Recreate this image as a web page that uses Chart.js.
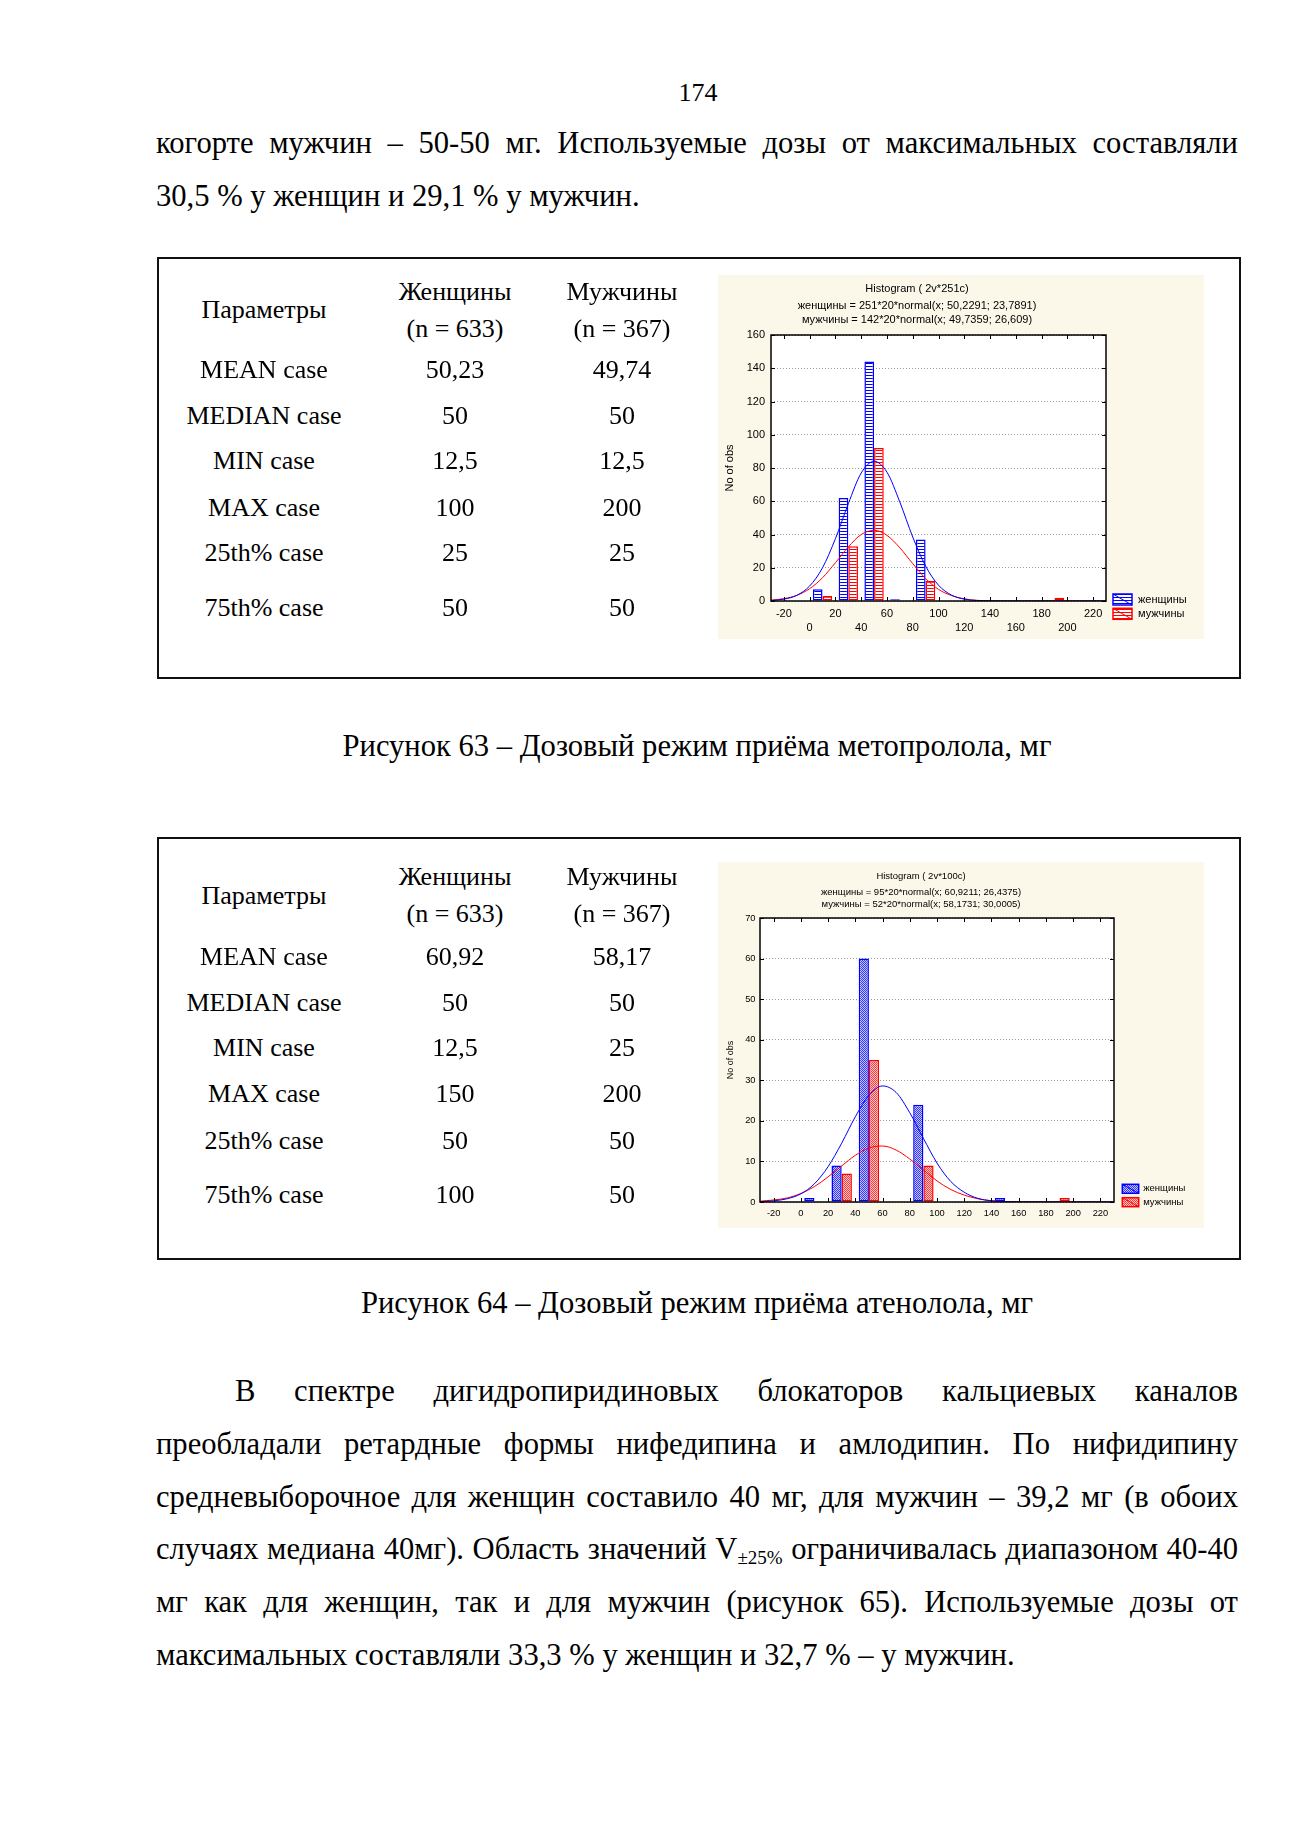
<!DOCTYPE html>
<html lang="ru">
<head>
<meta charset="utf-8">
<script src="https://cdn.jsdelivr.net/npm/chart.js@4.4.1/dist/chart.umd.min.js"></script>
<style>
  body { margin: 0; width: 1300px; height: 1839px; position: relative; overflow: hidden; background: #fff;
         font-family: "Liberation Serif", "Times New Roman", serif; color: #000; }
  .line { position: absolute; left: 156px; width: 1082px; height: 52.8px; line-height: 52.8px; font-size: 30.6px;
          text-align: justify; text-align-last: justify; }
  .line.last { text-align-last: left; }
  .center { position: absolute; text-align: center; white-space: nowrap; }
  .box { position: absolute; left: 157px; width: 1084px; border: 2px solid #111; box-sizing: border-box; }
  .panel { position: absolute; left: 718px; width: 486px; background: #fcf8e9; }
  .panel canvas { position: absolute; left: 0; top: 0; }
  sub { font-size: 19px; line-height: 0; vertical-align: -5px; }
</style>
</head>
<body>

<div class="center" style="left:598px;width:200px;top:73px;font-size:26px;line-height:40px;">174</div>

<div class="line" style="top:117px">когорте мужчин – 50-50 мг. Используемые дозы от максимальных составляли</div>
<div class="line last" style="top:170px">30,5 % у женщин и 29,1 % у мужчин.</div>

<div class="box" style="top:257px;height:422px"></div>
<div class="panel" style="top:275px;height:364px"><canvas id="meto" width="486" height="364"></canvas></div>
<div class="center" style="left:297px;width:800px;top:720px;font-size:30.6px;line-height:52.8px;">Рисунок 63 – Дозовый режим приёма метопролола, мг</div>

<div class="box" style="top:837px;height:423px"></div>
<div class="panel" style="top:862px;height:366px"><canvas id="aten" width="486" height="366"></canvas></div>
<div class="center" style="left:297px;width:800px;top:1277px;font-size:30.6px;line-height:52.8px;">Рисунок 64 – Дозовый режим приёма атенолола, мг</div>

<div class="line" style="top:1365px;padding-left:79px;width:1003px">В спектре дигидропиридиновых блокаторов кальциевых каналов</div>
<div class="line" style="top:1417.8px">преобладали ретардные формы нифедипина и амлодипин. По нифидипину</div>
<div class="line" style="top:1470.6px">средневыборочное для женщин составило 40 мг, для мужчин – 39,2 мг (в обоих</div>
<div class="line" style="top:1523.4px">случаях медиана 40мг). Область значений V<sub>±25%</sub> ограничивалась диапазоном 40-40</div>
<div class="line" style="top:1576.2px">мг как для женщин, так и для мужчин (рисунок 65). Используемые дозы от</div>
<div class="line last" style="top:1629px">максимальных составляли 33,3 % у женщин и 32,7 % – у мужчин.</div>

<script>
// table data
const paramNames = ['MEAN case', 'MEDIAN case', 'MIN case', 'MAX case', '25th% case', '75th% case'];
const metoWomenStats = ['50,23', '50', '12,5', '100', '25', '50'];
const metoMenStats = ['49,74', '50', '12,5', '200', '25', '50'];
const atenWomenStats = ['60,92', '50', '12,5', '150', '50', '100'];
const atenMenStats = ['58,17', '50', '25', '200', '50', '50'];

// histogram data (bin centres, counts)
const xTicks = [-20, 0, 20, 40, 60, 80, 100, 120, 140, 160, 180, 200, 220];
const metoBins = [10, 30, 50, 70, 90, 190];
const metoWomen = [7, 62, 144, 1, 37, 0];
const metoMen = [3, 33, 92, 0, 12, 2];
const atenBins = [10, 30, 50, 90, 150, 190];
const atenWomen = [1, 9, 60, 24, 1, 0];
const atenMen = [0, 7, 35, 9, 0, 1];

// fitted normal curves
const curveX = [-30, -20, -10, 0, 10, 20, 30, 40, 50, 60, 70, 80, 90, 100, 110, 120, 130, 140, 150, 160, 180, 200, 230];
const metoWomenFit = [0.3, 1.1, 3.4, 9, 20, 37.5, 58.5, 77, 84, 77.5, 59.5, 38.5, 21, 9.5, 3.6, 1.1, 0.3, 0.1, 0, 0, 0, 0, 0];
const metoMenFit = [0.5, 1.4, 3.4, 7.4, 14, 23, 32.5, 40, 42.5, 39.5, 32, 22.5, 13.5, 7, 3.3, 1.3, 0.4, 0.1, 0, 0, 0, 0, 0];
const atenWomenFit = [0.1, 0.3, 0.8, 2, 4.5, 8.7, 14.5, 21, 26.3, 28.6, 27, 22, 15.7, 9.6, 5.1, 2.4, 0.9, 0.3, 0.1, 0, 0, 0, 0];
const atenMenFit = [0.2, 0.5, 1, 2.1, 3.8, 6.2, 8.9, 11.5, 13.3, 13.8, 12.8, 10.6, 7.9, 5.2, 3.1, 1.7, 0.8, 0.3, 0.1, 0.05, 0, 0, 0];

const metoTitle = ['Histogram ( 2v*251c)', 'женщины = 251*20*normal(x; 50,2291; 23,7891)', 'мужчины = 142*20*normal(x; 49,7359; 26,609)'];
const atenTitle = ['Histogram ( 2v*100c)', 'женщины = 95*20*normal(x; 60,9211; 26,4375)', 'мужчины = 52*20*normal(x; 58,1731; 30,0005)'];

function addText(txt, cx, cy, size) {
  const d = document.createElement('div');
  d.className = 'center';
  d.style.cssText = `left:${cx - 150}px;width:300px;top:${cy - 20}px;font-size:${size}px;line-height:40px;`;
  d.textContent = txt;
  document.body.appendChild(d);
}

function buildTable(top, women, men, rowY) {
  addText('Женщины', 455, top[0], 26);
  addText('(n = 633)', 455, top[1], 26);
  addText('Мужчины', 622, top[0], 26);
  addText('(n = 367)', 622, top[1], 26);
  addText('Параметры', 264, top[2], 26);
  paramNames.forEach((p, i) => {
    addText(p, 264, rowY[i], 26);
    addText(women[i], 455, rowY[i], 26);
    addText(men[i], 622, rowY[i], 26);
  });
}
buildTable([292, 329, 310], metoWomenStats, metoMenStats, [370, 416, 461, 508, 553, 608]);
buildTable([877, 914, 896], atenWomenStats, atenMenStats, [957, 1003, 1048, 1094, 1141, 1195]);

Chart.defaults.font.family = '"Liberation Sans", Arial, sans-serif';
Chart.defaults.color = '#000';
Chart.defaults.animation = false;

function stripes(color) {
  const c = document.createElement('canvas');
  c.width = 4; c.height = 3;
  const g = c.getContext('2d');
  g.fillStyle = '#fff'; g.fillRect(0, 0, 4, 3);
  g.fillStyle = color; g.fillRect(0, 1, 4, 1);
  return g.createPattern(c, 'repeat');
}

function dots(dark, light) {
  const c = document.createElement('canvas');
  c.width = 2; c.height = 2;
  const g = c.getContext('2d');
  g.fillStyle = light; g.fillRect(0, 0, 2, 2);
  g.fillStyle = dark; g.fillRect(0, 0, 1, 1); g.fillRect(1, 1, 1, 1);
  return g.createPattern(c, 'repeat');
}

// frame, inner ticks, title lines and legend in the Statistica style
function statPlot(cfg) {
  return {
    id: 'statPlot',
    beforeDraw(chart) {
      const { ctx, chartArea: a } = chart;
      ctx.save();
      ctx.fillStyle = '#fff';
      ctx.fillRect(a.left, a.top, a.right - a.left, a.bottom - a.top);
      ctx.restore();
    },
    afterDraw(chart) {
      const { ctx, chartArea: a, scales } = chart;
      ctx.save();
      ctx.strokeStyle = '#000';
      ctx.lineWidth = 1.5;
      ctx.strokeRect(a.left, a.top, a.right - a.left, a.bottom - a.top);
      ctx.lineWidth = 1;
      ctx.beginPath();
      scales.x.ticks.forEach(t => {
        const px = Math.round(scales.x.getPixelForValue(t.value)) + 0.5;
        ctx.moveTo(px, a.top); ctx.lineTo(px, a.top + 4);
        ctx.moveTo(px, a.bottom); ctx.lineTo(px, a.bottom - 4);
      });
      scales.y.ticks.forEach(t => {
        const py = Math.round(scales.y.getPixelForValue(t.value)) + 0.5;
        ctx.moveTo(a.left, py); ctx.lineTo(a.left + 4, py);
        ctx.moveTo(a.right, py); ctx.lineTo(a.right - 4, py);
      });
      ctx.stroke();

      ctx.fillStyle = '#000';
      ctx.font = cfg.fontSize + 'px "Liberation Sans"';
      ctx.textAlign = 'center';
      ctx.textBaseline = 'middle';
      const cx = (scales.y.left + a.right) / 2 + cfg.titleDx;
      cfg.title.forEach((s, i) => ctx.fillText(s, cx, cfg.titleY[i]));

      ctx.textAlign = 'left';
      chart.data.datasets.filter(d => d.type !== 'line').forEach((d, i) => {
        const x = a.right + cfg.legendDx, y = a.bottom + cfg.legendDy[i];
        const w = cfg.swatch[0], h = cfg.swatch[1];
        ctx.fillStyle = d.backgroundColor;
        ctx.fillRect(x, y, w, h);
        ctx.strokeStyle = d.borderColor;
        ctx.lineWidth = 1.5;
        ctx.strokeRect(x, y, w, h);
        ctx.lineWidth = 1;
        ctx.beginPath(); ctx.moveTo(x, y); ctx.lineTo(x + w, y + h); ctx.stroke();
        ctx.fillStyle = '#000';
        ctx.fillText(d.label, x + w + cfg.legendGap, y + h / 2);
      });
      ctx.restore();
    }
  };
}

function histogram(id, c) {
  const toBars = (counts, bins) => bins.map((x, i) => ({ x: x, y: counts[i] || null }));
  const toCurve = ys => curveX.map((x, i) => ({ x: x, y: ys[i] }));
  new Chart(document.getElementById(id), {
    type: 'bar',
    data: {
      datasets: [
        { type: 'line', data: toCurve(c.womenFit), borderColor: '#0000ff', borderWidth: 1, pointRadius: 0,
          cubicInterpolationMode: 'monotone', order: 0 },
        { type: 'line', data: toCurve(c.menFit), borderColor: '#ff0000', borderWidth: 1, pointRadius: 0,
          cubicInterpolationMode: 'monotone', order: 0 },
        { label: 'женщины', data: toBars(c.women, c.bins), backgroundColor: c.womenFill, borderColor: '#0000ff',
          borderWidth: 1.5, borderSkipped: false, categoryPercentage: 0.75, barPercentage: 1, order: 1 },
        { label: 'мужчины', data: toBars(c.men, c.bins), backgroundColor: c.menFill, borderColor: '#ff0000',
          borderWidth: 1.5, borderSkipped: false, categoryPercentage: 0.75, barPercentage: 1, order: 2 }
      ]
    },
    options: {
      responsive: false,
      devicePixelRatio: 1,
      layout: { padding: c.padding },
      plugins: { legend: { display: false }, tooltip: { enabled: false } },
      scales: {
        x: {
          type: 'linear', min: -30, max: 230, offset: false,
          afterBuildTicks: ax => { ax.ticks = xTicks.map(v => ({ value: v })); },
          afterFit: ax => { ax.height = c.xHeight; },
          grid: { display: false, drawTicks: false },
          border: { display: false },
          ticks: { padding: c.xPad, maxRotation: 0, autoSkip: false,
                   font: { size: c.tickSize, lineHeight: 1.27 }, callback: c.xLabel }
        },
        y: {
          min: 0, max: c.yMax,
          afterFit: ax => { ax.width = c.yWidth; },
          ticks: { stepSize: c.yStep, padding: c.yPad, font: { size: c.tickSize } },
          grid: { color: '#9a9a9a', lineWidth: 1, drawTicks: false },
          border: { display: false, dash: [1, 2] },
          title: { display: true, text: 'No of obs', font: { size: c.yTitleSize }, padding: { top: c.yTitlePad, bottom: 0 } }
        }
      }
    },
    plugins: [statPlot(c.deco)]
  });
}

histogram('meto', {
  bins: metoBins, women: metoWomen, men: metoMen, womenFit: metoWomenFit, menFit: metoMenFit,
  womenFill: stripes('#0000ff'), menFill: stripes('#ff0000'),
  padding: { left: 0, top: 60, right: 98, bottom: 0 },
  xHeight: 38, yWidth: 53, xPad: 6, yPad: 6, tickSize: 11, yMax: 160, yStep: 20,
  yTitleSize: 11, yTitlePad: 5,
  xLabel: (v, i) => i % 2 === 0 ? String(v) : ['', String(v)],
  deco: { title: metoTitle, titleY: [14.3, 31, 45.3], titleDx: 5, fontSize: 11,
          legendDx: 7, legendDy: [-7, 7.3], swatch: [19, 11], legendGap: 6 }
});

histogram('aten', {
  bins: atenBins, women: atenWomen, men: atenMen, womenFit: atenWomenFit, menFit: atenMenFit,
  womenFill: dots('#3434ff', '#c4c8ff'), menFill: dots('#ff3a3a', '#ffc8c8'),
  padding: { left: 0, top: 56, right: 90, bottom: 0 },
  xHeight: 26, yWidth: 42, xPad: 6, yPad: 4.5, tickSize: 9.3, yMax: 70, yStep: 10,
  yTitleSize: 9, yTitlePad: 7,
  xLabel: v => String(v),
  deco: { title: atenTitle, titleY: [14, 30, 42.3], titleDx: 5, fontSize: 9.5,
          legendDx: 8.3, legendDy: [-17.7, -4.3], swatch: [16.4, 9], legendGap: 4.5 }
});
</script>
</body>
</html>
